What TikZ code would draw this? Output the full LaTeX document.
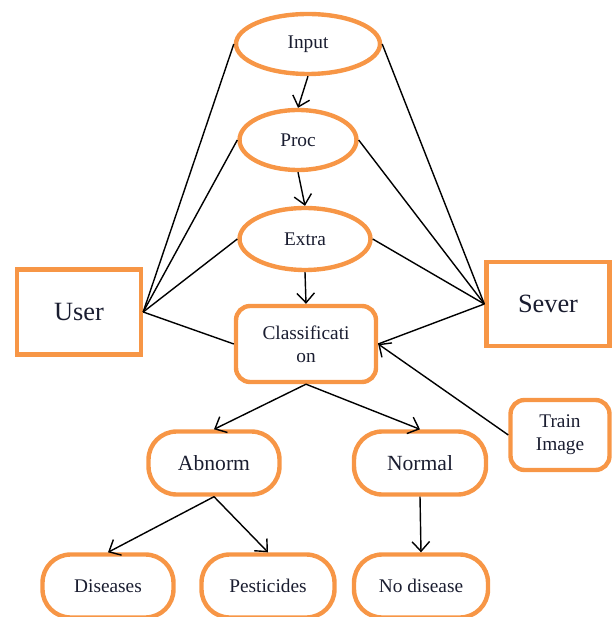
\documentclass[tikz,border=0pt]{standalone}
\usepackage{fontspec}
\setmainfont{Liberation Serif}
\usetikzlibrary{arrows.meta,shapes.geometric}
\definecolor{orng}{HTML}{F79646}
\definecolor{ink}{HTML}{1A1D30}

\begin{document}
\begin{tikzpicture}[
  x=.02cm,y=-.02cm,
  font=\fontsize{11}{13}\selectfont, text=ink,
  oval/.style={ellipse,draw=orng,line width=2.5pt,inner sep=0pt,
    minimum width=#1,minimum height=1.2cm},
  box/.style={draw=orng,line width=2.5pt,inner sep=0pt,
    minimum width=2.48cm,minimum height=1.7cm,font=\fontsize{15}{17}\selectfont},
  rbox/.style={draw=orng,line width=2.5pt,rounded corners=8pt,align=center,inner sep=0pt},
  pill/.style={draw=orng,line width=2.5pt,rounded corners=16pt,inner sep=0pt,
    minimum width=#1,minimum height=1.26cm},
  flow/.style={-{Straight Barb[length=5.5pt,width=10pt]},line width=.8pt},
  link/.style={line width=.8pt}
]
\clip (0,0) rectangle (614,617);

% processing chain
\node[oval=2.88cm] (input) at (308,44) {Input};
\node[oval=2.34cm] (proc) at (298,140) {Proc};
\node[oval=2.62cm,minimum height=1.24cm] (extra) at (305,239) {Extra};
\node[rbox,minimum width=2.8cm,minimum height=1.52cm] (classif) at (306,344) {Classificati\\on};

\node[box] (user) at (79,312) {User};
\node[box,minimum width=2.46cm,minimum height=1.68cm] (sever) at (548,304) {Sever};
\node[rbox,minimum width=1.98cm,minimum height=1.4cm] (train) at (560,435) {Train\\Image};

% results
\node[pill=2.62cm,font=\fontsize{12.3}{14}\selectfont] (abnorm) at (214,463) {Abnorm};
\node[pill=2.64cm,font=\fontsize{12.3}{14}\selectfont] (normal) at (420,463) {Normal};
\node[pill=2.62cm] (diseases) at (108,586) {Diseases};
\node[pill=2.66cm] (pest) at (268,586) {Pesticides};
\node[pill=2.68cm] (nodis) at (421,586) {No disease};

\draw[flow] (input.south) -- (proc.north);
\draw[flow] (proc.south) -- (extra.north);
\draw[flow] (extra.south) -- (classif.north);
\draw[flow] (classif.south) -- (abnorm.north);
\draw[flow] (classif.south) -- (normal.north);
\draw[flow] (abnorm.south) -- (diseases.north);
\draw[flow] (abnorm.south) -- (pest.north);
\draw[flow] (normal.south) -- (nodis.north);
\draw[flow] (train.west) -- (classif.east);

% user and server links
\draw[link] (user.east) -- (input.west);
\draw[link] (user.east) -- (proc.west);
\draw[link] (user.east) -- (extra.west);
\draw[link] (user.east) -- (classif.west);
\draw[link] (sever.west) -- (input.east);
\draw[link] (sever.west) -- (proc.east);
\draw[link] (sever.west) -- (extra.east);
\draw[link] (sever.west) -- (classif.east);

\end{tikzpicture}
\end{document}
